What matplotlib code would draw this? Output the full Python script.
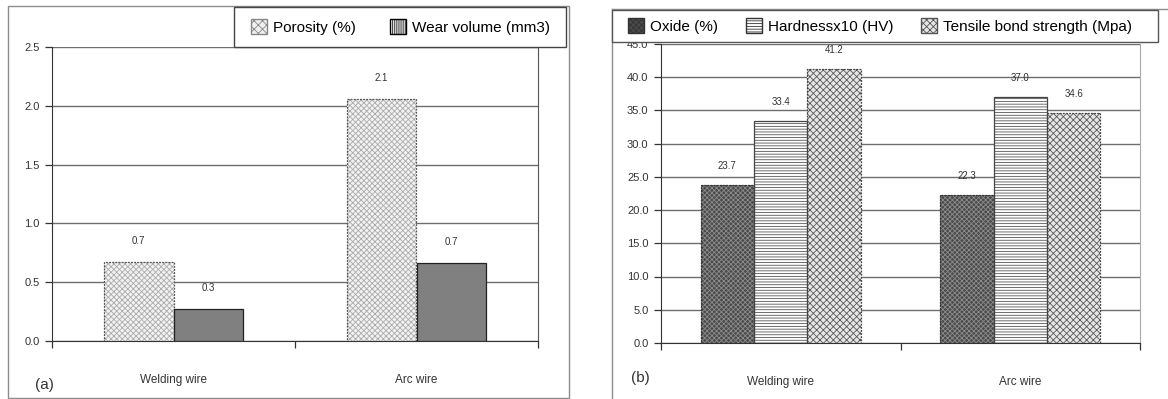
import matplotlib
matplotlib.use("Agg")
import matplotlib.pyplot as plt
from matplotlib.patches import Patch, Rectangle
from matplotlib.lines import Line2D
import numpy as np

# ---------------- data ----------------
categories = ["Welding wire", "Arc wire"]

# panel (a)
porosity = [0.67, 2.06]
wear_volume = [0.27, 0.66]
a_series_names = ["Porosity (%)", "Wear volume (mm3)"]
a_yticks = [0.0, 0.5, 1.0, 1.5, 2.0, 2.5]

# panel (b)
oxide = [23.7, 22.3]
hardness_x10 = [33.4, 37.0]
tensile_bond = [41.2, 34.6]
b_series_names = ["Oxide (%)", "Hardnessx10 (HV)", "Tensile bond strength (Mpa)"]
b_yticks = [0.0, 5.0, 10.0, 15.0, 20.0, 25.0, 30.0, 35.0, 40.0, 45.0]

W, H = 1168, 399
plt.rcParams["font.family"] = ["Liberation Sans", "DejaVu Sans"]
plt.rcParams["hatch.linewidth"] = 0.6

fig = plt.figure(figsize=(W / 100, H / 100), dpi=100)
fig.patch.set_facecolor("white")


def fx(px):
    return px / W


def fy(py):
    return 1 - py / H


def box(x0, y0, x1, y1, **kw):
    fig.add_artist(Rectangle((fx(x0), fy(y1)), fx(x1) - fx(x0), fy(y0) - fy(y1),
                             transform=fig.transFigure, fill=False, **kw))


def line(xs, ys, **kw):
    fig.add_artist(Line2D([fx(x) for x in xs], [fy(y) for y in ys],
                          transform=fig.transFigure, **kw))


def draw_bar(ax, x, h, w, face, hatch, hcolor, edge, ls="-"):
    ax.bar(x, h, w, color=face, hatch=hatch, edgecolor=hcolor, linewidth=0, zorder=3)
    ax.bar(x, h, w, fill=False, edgecolor=edge, linewidth=0.9, linestyle=ls, zorder=4)


def style_axes(ax, ymax, yticks, fmt, right_x_color):
    ax.set_xlim(-0.5, len(categories) - 0.5)
    ax.set_ylim(0, ymax)
    ax.set_yticks(yticks)
    ax.set_yticklabels([fmt % t for t in yticks], fontsize=8, color="#333333")
    ax.yaxis.grid(True, color="#6e6e6e", linewidth=1.0, zorder=0)
    ax.set_axisbelow(True)
    ax.spines["top"].set_visible(False)
    ax.spines["right"].set_color(right_x_color)
    ax.spines["left"].set_color("#333333")
    ax.spines["bottom"].set_color("#333333")
    ax.tick_params(axis="y", length=5, width=0.9, pad=4, color="#333333")
    ax.set_xticks(range(len(categories)))
    ax.set_xticklabels(categories, fontsize=8.5, color="#333333")
    ax.tick_params(axis="x", which="major", length=0, pad=24)
    ax.set_xticks(np.arange(-0.5, len(categories), 1.0), minor=True)
    ax.tick_params(axis="x", which="minor", length=5, width=0.9, color="#333333")
    ax.set_facecolor("none")


# ---------------- panel (a) ----------------
box(8, 6, 569, 398, edgecolor="#8c8c8c", linewidth=1.0)
axa = fig.add_axes([fx(52), fy(341), fx(538) - fx(52), fy(47) - fy(341)])
x = np.arange(len(categories))
bw_a = 0.288
for i in range(len(categories)):
    draw_bar(axa, x[i] - bw_a / 2, porosity[i], bw_a, "#f2f2f2", "xxxxxx", "#ababab",
             "#555555", ls=(0, (1.5, 1)))
    draw_bar(axa, x[i] + bw_a / 2, wear_volume[i], bw_a, "#808080", None, "#808080", "#222222")
    axa.annotate("%.1f" % porosity[i], (x[i] - bw_a / 2, porosity[i]), xytext=(0, 21),
                 textcoords="offset pixels", ha="center", va="center", fontsize=7, color="#333333")
    axa.annotate("%.1f" % wear_volume[i], (x[i] + bw_a / 2, wear_volume[i]), xytext=(0, 21),
                 textcoords="offset pixels", ha="center", va="center", fontsize=7, color="#333333")
style_axes(axa, 2.5, a_yticks, "%.1f", "#555555")

# legend (a)
box(234, 7, 566, 47, edgecolor="#444444", linewidth=1.0, zorder=10)
fig.add_artist(Rectangle((fx(234), fy(47)), fx(566) - fx(234), fy(7) - fy(47),
                         transform=fig.transFigure, facecolor="white", edgecolor="none", zorder=9))
ha = [Patch(facecolor="#f0f0f0", edgecolor="#888888", hatch="xxxx"),
      Patch(facecolor="white", edgecolor="black", hatch="||||||||")]
fig.legend(ha, a_series_names, loc="center left", bbox_to_anchor=(fx(251), fy(27)),
           ncol=2, frameon=False, fontsize=11, handlelength=1.05, handleheight=1.05,
           handletextpad=0.4, columnspacing=2.2, borderpad=0, borderaxespad=0).set_zorder(11)
fig.text(fx(44), fy(385), "(a)", fontsize=11, color="#333333", ha="center", va="center")

# ---------------- panel (b) ----------------
line([612, 612], [9, 399], color="#8c8c8c", linewidth=1.0)
line([612, 1168], [9, 9], color="#8c8c8c", linewidth=1.0)
axb = fig.add_axes([fx(661), fy(343), fx(1140) - fx(661), fy(343 - 45 * 6.65) - fy(343)])
bw_b = 0.223
series_b = [oxide, hardness_x10, tensile_bond]
styles_b = [("#4a4a4a", "xxxxxxx", "#8c8c8c", "#333333", (0, (1.5, 1))),
            ("white", "------", "#555555", "#444444", "-"),
            ("#e6e6e6", "xxxxx", "#5a5a5a", "#444444", (0, (1.5, 1)))]
for k, vals in enumerate(series_b):
    face, hatch, hc, ec, ls = styles_b[k]
    for i in range(len(categories)):
        xc = x[i] + (k - 1) * bw_b
        draw_bar(axb, xc, vals[i], bw_b, face, hatch, hc, ec, ls=ls)
        axb.annotate("%.1f" % vals[i], (xc, vals[i]), xytext=(0, 19),
                     textcoords="offset pixels", ha="center", va="center", fontsize=7,
                     color="#333333")
style_axes(axb, 45, b_yticks, "%.1f", "#aaaaaa")

# legend (b)
fig.add_artist(Rectangle((fx(612), fy(42)), fx(1158) - fx(612), fy(10) - fy(42),
                         transform=fig.transFigure, facecolor="white", edgecolor="#555555",
                         linewidth=1.0, zorder=9))
hb = [Patch(facecolor="#4a4a4a", edgecolor="#333333", hatch="xxxxxx"),
      Patch(facecolor="white", edgecolor="#333333", hatch="------"),
      Patch(facecolor="#e6e6e6", edgecolor="#555555", hatch="xxxxx")]
fig.legend(hb, b_series_names, loc="center left", bbox_to_anchor=(fx(628), fy(26)),
           ncol=3, frameon=False, fontsize=11, handlelength=1.05, handleheight=1.05,
           handletextpad=0.4, columnspacing=1.8, borderpad=0, borderaxespad=0).set_zorder(11)
fig.text(fx(640), fy(378), "(b)", fontsize=11, color="#333333", ha="center", va="center")

fig.savefig("out.png", dpi=100)
